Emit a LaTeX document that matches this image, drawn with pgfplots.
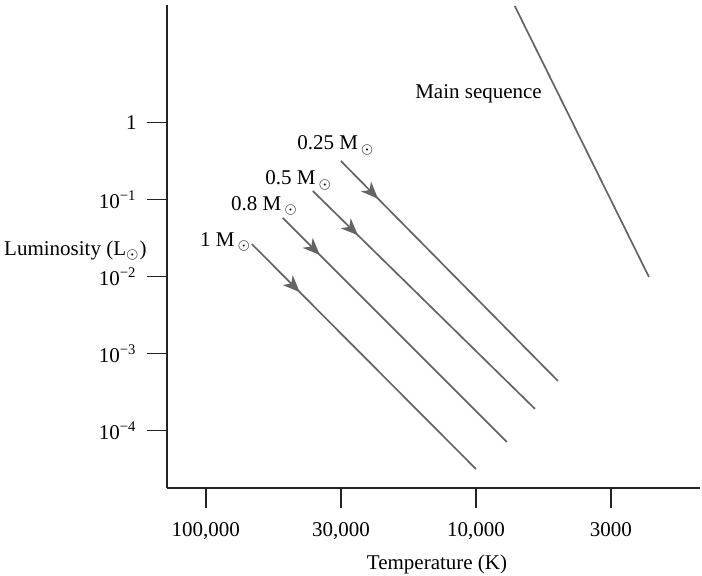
\documentclass[border=0pt]{standalone}
\usepackage{fontspec}
\setmainfont{Liberation Serif}
\usepackage{pgfplots}
\usepackage{pgfplotstable}
\pgfplotsset{compat=1.18}
\usetikzlibrary{arrows.meta,decorations.markings}

\definecolor{track}{RGB}{100,100,100}
\definecolor{axisc}{RGB}{35,35,35}

% log10 T, log10 L  (end points of each line)
\pgfplotstableread{
logT logL
3.856 1.512
3.359 -2.005
}\mainseq
\pgfplotstableread{
logT logL
4.500 -0.500
3.696 -3.355
}\mA
\pgfplotstableread{
logT logL
4.604 -0.889
3.781 -3.718
}\mB
\pgfplotstableread{
logT logL
4.715 -1.239
3.885 -4.147
}\mC
\pgfplotstableread{
logT logL
4.830 -1.577
4.000 -4.497
}\mD

\newcommand{\msun}{M\kern1.5pt$_{\odot}$}

\begin{document}
\fontsize{10.5}{12.6}\selectfont
\begin{tikzpicture}[
  trk/.style={track, line width=0.85pt, postaction={decorate},
    decoration={markings, mark=at position #1 with {\arrow{Stealth[length=8.5pt,width=7pt,inset=2.5pt]}}}},
  lbl/.style={inner sep=0pt}
]
\begin{axis}[name=ax, scale only axis, width=266.5pt, height=241.5pt,
  x dir=reverse, xmin=3.170, xmax=5.144, ymin=-4.744, ymax=1.525,
  axis x line=bottom, axis y line=left,
  axis line style={-, axisc, line width=0.8pt},
  tick style={axisc, line width=0.8pt}, tick align=outside, major tick length=10pt,
  xtick={5,4.5,4,3.5}, xticklabels={{100,000},{30,000},{10,000},{3000}},
  ytick={0,-1,-2,-3,-4},
  yticklabels={1,{10\textsuperscript{−1}},{10\textsuperscript{−2}},{10\textsuperscript{−3}},{10\textsuperscript{−4}}},
  xticklabel style={yshift=-3.5pt}, yticklabel style={xshift=-1.5pt},
  /pgf/number format/assume math mode=true,
  clip=false]
\addplot[track, line width=0.85pt] table[x=logT, y=logL] {\mainseq};
\addplot[trk=0.171] table[x=logT, y=logL] {\mA};
\addplot[trk=0.203] table[x=logT, y=logL] {\mB};
\addplot[trk=0.165] table[x=logT, y=logL] {\mC};
\addplot[trk=0.214] table[x=logT, y=logL] {\mD};

\node[lbl, anchor=base east] at (axis cs:4.374,-0.357) {0.25 \msun};
\node[lbl, anchor=base east] at (axis cs:4.531,-0.811) {0.5 \msun};
\node[lbl, anchor=base east] at (axis cs:4.658,-1.136) {0.8 \msun};
\node[lbl, anchor=base east] at (axis cs:4.831,-1.612) {1 \msun};
\node[lbl, anchor=base west] at (axis cs:4.226,0.314) {Main sequence};
\node[lbl, anchor=base east] at ([xshift=-10pt]axis cs:5.144,-1.720) {Luminosity (L$_{\odot}$)};
\node[lbl, anchor=base] at ([yshift=-41pt]axis cs:4.144,-4.744) {Temperature (K)};
\end{axis}
\pgfresetboundingbox
\path[use as bounding box] ([shift={(-83.5pt,-44pt)}]ax.south west) rectangle ([shift={(267.5pt,244pt)}]ax.south west);
\end{tikzpicture}
\end{document}
